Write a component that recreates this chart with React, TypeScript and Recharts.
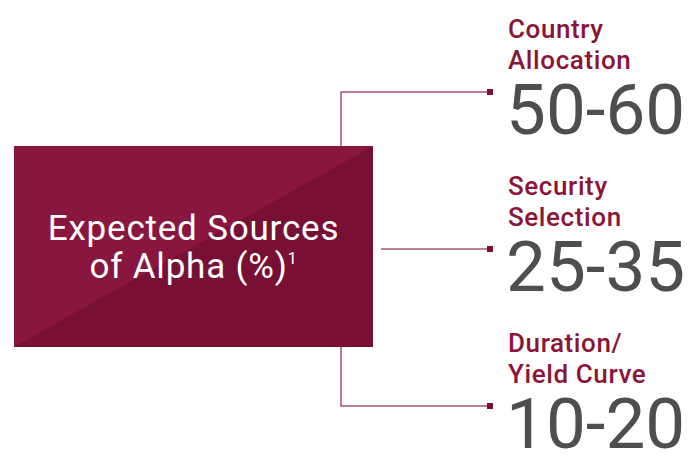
import { ScatterChart, Scatter, XAxis, YAxis } from 'recharts';

// expected sources of alpha, in percent (low - high)
const categories = ['Country Allocation', 'Security Selection', 'Duration/ Yield Curve'];
const lowPct = [50, 25, 10];
const highPct = [60, 35, 20];
const titleLines = ['Expected Sources', 'of Alpha (%)'];
const footnote = '1';

const data = categories.map((name, i) => ({ name, low: lowPct[i], high: highPct[i] }));

const MAROON = '#8a1538';
const GREY = '#4d4e50';
const LINE = '#a4566f';
const FONT = 'Roboto, "Noto Sans", sans-serif';

// the title box on the left
const BOX = { x: 14, y: 146, w: 359, h: 201 };

function SourceMark(props: any) {
  const { cx, cy, payload } = props;
  const words = payload.name.split(' ');
  const line1 = words[0];
  const line2 = words.slice(1).join(' ');
  let path = '';
  if (cy < BOX.y) path = `M341,${BOX.y} V${cy} H${cx}`;
  else if (cy > BOX.y + BOX.h) path = `M341,${BOX.y + BOX.h} V${cy} H${cx}`;
  else path = `M${BOX.x + BOX.w + 8},${cy} H${cx}`;
  return (
    <g>
      <path d={path} fill="none" stroke={LINE} strokeWidth={1.5} />
      <rect x={cx - 3} y={cy - 3} width={6} height={6} fill="#7a1035" />
      <text x={cx + 18} y={cy - 54} fontFamily={FONT} fontSize={26} fontWeight={500} letterSpacing={0.6} fill={MAROON}>
        {line1}
      </text>
      <text x={cx + 18} y={cy - 23} fontFamily={FONT} fontSize={26} fontWeight={500} letterSpacing={0.6} fill={MAROON}>
        {line2}
      </text>
      <text x={cx + 16} y={cy + 42} fontFamily={FONT} fontSize={71} fill={GREY}>
        {`${payload.low}-${payload.high}`}
      </text>
    </g>
  );
}

export default function App() {
  const { x, y, w, h } = BOX;
  return (
    <div style={{ position: 'absolute', left: 0, top: 0, width: 693, height: 455, background: '#fff' }}>
      <ScatterChart width={693} height={455} margin={{ top: 92, right: 203, bottom: 49, left: 0 }}>
        <XAxis type="number" dataKey={() => 1} domain={[0, 1]} hide />
        <YAxis type="category" dataKey="name" scale="point" reversed allowDuplicatedCategory={false} hide />
        <g>
          <rect x={x} y={y} width={w} height={h} fill="#88163e" />
          <polygon points={`${x},${y + h} ${x + w},${y} ${x + w},${y + h}`} fill="#780f34" />
          <text x={x + w / 2} y={240} textAnchor="middle" fontFamily={FONT} fontSize={35} letterSpacing={0.8} fill="#fff">
            {titleLines[0]}
          </text>
          <text x={x + w / 2} y={278} textAnchor="middle" fontFamily={FONT} fontSize={35} letterSpacing={0.8} fill="#fff">
            {titleLines[1]}
            <tspan fontSize={16} dy={-14}>{footnote}</tspan>
          </text>
        </g>
        <Scatter data={data} shape={<SourceMark />} isAnimationActive={false} />
      </ScatterChart>
    </div>
  );
}
